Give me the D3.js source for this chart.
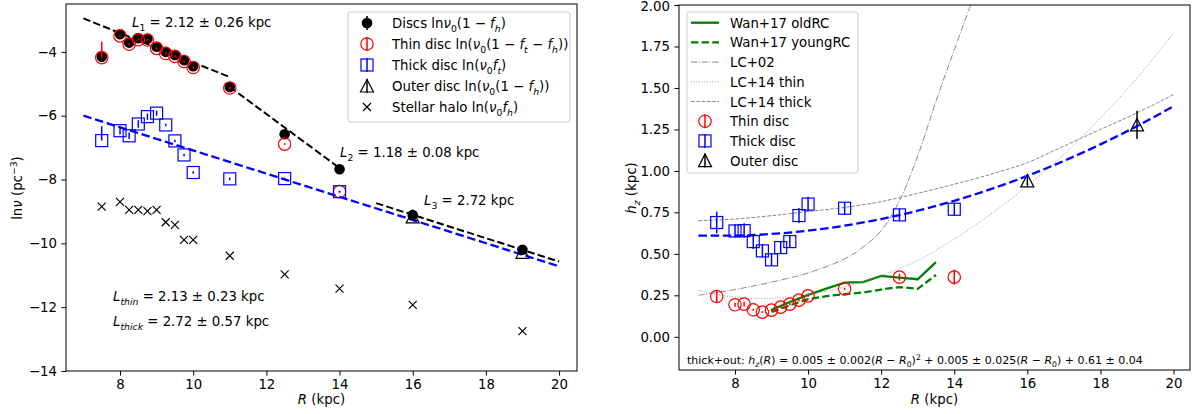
<!DOCTYPE html>
<html><head><meta charset="utf-8">
<script src="https://cdn.jsdelivr.net/npm/d3@7"></script>
<style>
body{margin:0;background:#fff}
svg{font-family:"DejaVu Sans",sans-serif}
</style>
</head><body>
<svg id="fig" width="1193" height="414"></svg>
<script>
// ---------- number density panel ----------
const radii = [7.5, 8.0, 8.25, 8.5, 8.75, 9.0, 9.25, 9.5, 9.75, 10.0, 11.0, 12.5, 14.0, 16.0, 19.0];
const discLnNu = [-4.15, -3.45, -3.71, -3.57, -3.59, -3.84, -4.0, -4.1, -4.26, -4.45, -5.1, -6.58, -7.68, -9.11, -10.2];
const haloLnNu = [-8.85, -8.7, -8.95, -8.95, -8.99, -8.95, -9.34, -9.42, -9.89, -9.89, -10.39, -10.97, -11.42, -11.93, -12.75];
const innerRadii = [7.5, 8.0, 8.25, 8.5, 8.75, 9.0, 9.25, 9.5, 9.75, 10.0, 11.0, 12.5, 14.0];
const thinLnNu = [-4.18, -3.5, -3.76, -3.62, -3.63, -3.89, -4.05, -4.14, -4.3, -4.49, -5.13, -6.89, -8.38];
const thinErrUp = [0.5, 0.03, 0.03, 0.03, 0.03, 0.03, 0.03, 0.03, 0.03, 0.03, 0.03, 0.03, 0.03];
const thinErrDn = [0.0, 0.03, 0.03, 0.03, 0.03, 0.03, 0.03, 0.03, 0.03, 0.03, 0.03, 0.03, 0.03];
const thickLnNu = [-6.78, -6.47, -6.63, -6.26, -6.03, -5.92, -6.29, -6.79, -7.23, -7.78, -7.98, -7.97, -8.38];
const thickErrUp = [0.45, 0.12, 0.1, 0.12, 0.1, 0.08, 0.04, 0.04, 0.04, 0.04, 0.04, 0.03, 0.03];
const thickErrDn = [0.0, 0.12, 0.1, 0.12, 0.1, 0.08, 0.04, 0.04, 0.04, 0.04, 0.04, 0.03, 0.03];
const outerRadii = [16.0, 19.0];
const outerLnNu = [-9.17, -10.28];
// fitted exponential profiles (end points of each straight segment in ln space)
const fitBreakR = [[7.0, 11.0], [11.0, 14.0], [15.0, 20.0]];
const fitBreakLn = [[-2.95, -4.79], [-5.1, -7.64], [-8.74, -10.57]];
const fitThickR = [7.0, 20.0];
const fitThickLn = [-6.0, -10.72];

// ---------- scale height panel ----------
const hzRadii = [7.5, 8.0, 8.25, 8.5, 8.75, 9.0, 9.25, 9.5, 9.75, 10.0, 11.0, 12.5, 14.0];
const thinHz = [0.243, 0.193, 0.197, 0.163, 0.149, 0.161, 0.179, 0.197, 0.221, 0.247, 0.289, 0.36, 0.36];
const thinHzErr = [0.035, 0.012, 0.015, 0.006, 0.006, 0.006, 0.006, 0.006, 0.006, 0.006, 0.006, 0.02, 0.045];
const thickHz = [0.689, 0.638, 0.64, 0.574, 0.518, 0.464, 0.538, 0.574, 0.731, 0.80, 0.775, 0.735, 0.769];
const thickHzErr = [0.065, 0.04, 0.045, 0.045, 0.04, 0.036, 0.036, 0.036, 0.045, 0.045, 0.036, 0.036, 0.036];
const outerHzR = [16.0, 19.0];
const outerHz = [0.94, 1.277];
const outerHzErr = [0.03, 0.085];
const wanR = [9.0, 9.5, 10.0, 10.5, 11.0, 11.5, 12.0, 12.5, 13.0, 13.5];
const wanOld = [0.163, 0.21, 0.253, 0.29, 0.327, 0.33, 0.367, 0.357, 0.347, 0.45];
const wanYoung = [0.15, 0.19, 0.227, 0.245, 0.257, 0.267, 0.285, 0.30, 0.289, 0.373];
const lc02R = [7.0, 8.0, 9.0, 10.0, 11.0, 11.5, 12.0, 12.5, 13.0, 13.5, 14.0, 14.45];
const lc02Hz = [0.25, 0.285, 0.33, 0.385, 0.47, 0.54, 0.64, 0.82, 1.09, 1.42, 1.73, 2.0];
const lc14R = [7.0, 7.5, 8.0, 8.5, 9.0, 9.5, 10.0, 11.0, 12.0, 13.0, 14.0, 15.0, 16.0, 17.0, 18.0, 19.0, 20.0];
const lc14Thin = [0.28, 0.255, 0.24, 0.232, 0.232, 0.24, 0.255, 0.3, 0.37, 0.46, 0.59, 0.74, 0.91, 1.1, 1.32, 1.56, 1.83];
const lc14ThickR = [7, 8, 9, 10, 11, 12, 13, 14, 15, 16, 17, 18, 19, 20];
const lc14Thick = [0.70, 0.71, 0.73, 0.755, 0.78, 0.815, 0.865, 0.92, 0.98, 1.05, 1.15, 1.25, 1.35, 1.46];
const fitHzR = [7, 8, 9, 10, 11, 12, 13, 14, 15, 16, 17, 18, 19, 20];
const fitHz = [0.61, 0.61, 0.62, 0.64, 0.67, 0.71, 0.76, 0.82, 0.89, 0.97, 1.06, 1.16, 1.27, 1.39];

const rTicks = [8, 10, 12, 14, 16, 18, 20];
const lnTicks = [-4, -6, -8, -10, -12, -14];
const hzTicks = [0.0, 0.25, 0.5, 0.75, 1.0, 1.25, 1.5, 1.75, 2.0];

const FS = 13.3;
const svg = d3.select("#fig");
const zip = (a, b) => a.map((v, i) => [v, b[i]]);

// mixed roman / italic / sub / superscript text
function rich(g, x, y, parts, size, opts = {}) {
  const t = g.append("text").attr("x", x).attr("y", y).attr("font-size", size)
    .attr("fill", "#000");
  if (opts.anchor) t.attr("text-anchor", opts.anchor);
  if (opts.transform) t.attr("transform", opts.transform);
  let shift = 0;
  parts.forEach(p => {
    const [txt, st = ""] = p;
    let target = 0, fsz = size;
    if (st.includes("sub")) { target = 0.28 * size; fsz = 0.7 * size; }
    if (st.includes("sup")) { target = -0.4 * size; fsz = 0.7 * size; }
    const ts = t.append("tspan").text(txt).attr("font-size", fsz)
      .attr("dy", target - shift);
    if (st.includes("i")) ts.attr("font-style", "italic");
    shift = target;
  });
  return t;
}

function frame(g, x0, y0, x1, y1) {
  g.append("rect").attr("x", x0).attr("y", y0).attr("width", x1 - x0).attr("height", y1 - y0)
    .attr("fill", "none").attr("stroke", "#000").attr("stroke-width", 1);
}

function styleAxis(a) {
  a.select(".domain").remove();
  a.selectAll("text").attr("font-size", FS).attr("fill", "#000")
    .attr("font-family", "DejaVu Sans");
  a.selectAll("line").attr("stroke", "#000").attr("stroke-width", 1);
}

// marker painters
function circleFilled(g, x, y) {
  g.append("circle").attr("cx", x).attr("cy", y).attr("r", 5.3).attr("fill", "#000");
}
function circleOpen(g, x, y, c) {
  g.append("circle").attr("cx", x).attr("cy", y).attr("r", 6.2).attr("fill", "none")
    .attr("stroke", c).attr("stroke-width", 1.2);
}
function squareOpen(g, x, y, c) {
  g.append("rect").attr("x", x - 6).attr("y", y - 6).attr("width", 12).attr("height", 12)
    .attr("fill", "none").attr("stroke", c).attr("stroke-width", 1.2);
}
function triOpen(g, x, y) {
  g.append("path").attr("d", `M${x},${y - 6.5}L${x + 6.5},${y + 6}L${x - 6.5},${y + 6}Z`)
    .attr("fill", "none").attr("stroke", "#000").attr("stroke-width", 1.2);
}
function cross(g, x, y) {
  const s = 4;
  g.append("path").attr("d", `M${x - s},${y - s}L${x + s},${y + s}M${x - s},${y + s}L${x + s},${y - s}`)
    .attr("stroke", "#000").attr("stroke-width", 1.2);
}
function vbar(g, x, y0, y1, c) {
  g.append("line").attr("x1", x).attr("x2", x).attr("y1", y0).attr("y2", y1)
    .attr("stroke", c).attr("stroke-width", 1.5);
}

// =============== left panel ===============
{
  const L = {x0: 66, x1: 577, y0: 4, y1: 371};
  const x = d3.scaleLinear().domain([6.524, 20.49]).range([L.x0, L.x1]);
  const y = d3.scaleLinear().domain([-14, -2.5]).range([L.y1, L.y0]);
  const g = svg.append("g");

  const ax = g.append("g").attr("transform", `translate(0,${L.y1})`)
    .call(d3.axisBottom(x).tickValues(rTicks).tickSize(4.6).tickPadding(4.4).tickFormat(d3.format("d")));
  styleAxis(ax);
  const ay = g.append("g").attr("transform", `translate(${L.x0},0)`)
    .call(d3.axisLeft(y).tickValues(lnTicks).tickSize(4.6).tickPadding(4.4).tickFormat(d3.format("d")));
  styleAxis(ay);

  const line = d3.line().x(d => x(d[0])).y(d => y(d[1]));
  fitBreakR.forEach((r, i) => {
    g.append("path").datum(zip(r, fitBreakLn[i])).attr("d", line).attr("fill", "none")
      .attr("stroke", "#000").attr("stroke-width", 2).attr("stroke-dasharray", "7.4,3.2");
  });
  g.append("path").datum(zip(fitThickR, fitThickLn)).attr("d", line).attr("fill", "none")
    .attr("stroke", "#0000ff").attr("stroke-width", 2.3).attr("stroke-dasharray", "8.5,3.7");

  // discs (1 - f_h)
  radii.forEach((r, i) => circleFilled(g, x(r), y(discLnNu[i])));
  // thin disc
  innerRadii.forEach((r, i) => {
    vbar(g, x(r), y(thinLnNu[i] + thinErrUp[i]), y(thinLnNu[i] - thinErrDn[i]), "#ff0000");
    circleOpen(g, x(r), y(thinLnNu[i]), "#ff0000");
  });
  // thick disc
  innerRadii.forEach((r, i) => {
    vbar(g, x(r), y(thickLnNu[i] + thickErrUp[i]), y(thickLnNu[i] - thickErrDn[i]), "#0000ff");
    squareOpen(g, x(r), y(thickLnNu[i]), "#0000ff");
  });
  // outer disc
  outerRadii.forEach((r, i) => triOpen(g, x(r), y(outerLnNu[i])));
  // stellar halo
  radii.forEach((r, i) => cross(g, x(r), y(haloLnNu[i])));

  frame(g, L.x0, L.y0, L.x1, L.y1);

  rich(g, 132, 27, [["L", "i"], ["1", "sub"], [" = 2.12 ± 0.26 kpc"]], FS);
  rich(g, 340, 157, [["L", "i"], ["2", "sub"], [" = 1.18 ± 0.08 kpc"]], FS);
  rich(g, 424, 205, [["L", "i"], ["3", "sub"], [" = 2.72 kpc"]], FS);
  rich(g, 113, 301, [["L", "i"], ["thin", "isub"], [" = 2.13 ± 0.23 kpc"]], FS);
  rich(g, 113, 326, [["L", "i"], ["thick", "isub"], [" = 2.72 ± 0.57 kpc"]], FS);

  rich(g, (L.x0 + L.x1) / 2, 404, [["R", "i"], [" (kpc)"]], FS, {anchor: "middle"});
  rich(g, 0, 0, [["ln"], ["ν", "i"], [" (pc"], ["−3", "sup"], [")"]], FS,
    {anchor: "middle", transform: "translate(22,188) rotate(-90)"});

  // legend
  const lg = g.append("g");
  lg.append("rect").attr("x", 348).attr("y", 12).attr("width", 222).attr("height", 110)
    .attr("rx", 3).attr("fill", "#fff").attr("fill-opacity", 0.8).attr("stroke", "#cccccc");
  const mx = 367, tx = 392;
  const rows = [23, 44, 65, 86, 107];
  vbar(lg, mx, rows[0] - 7, rows[0] + 7, "#000"); circleFilled(lg, mx, rows[0]);
  vbar(lg, mx, rows[1] - 7, rows[1] + 7, "#ff0000"); circleOpen(lg, mx, rows[1], "#ff0000");
  vbar(lg, mx, rows[2] - 7, rows[2] + 7, "#0000ff"); squareOpen(lg, mx, rows[2], "#0000ff");
  vbar(lg, mx, rows[3] - 7, rows[3] + 7, "#000"); triOpen(lg, mx, rows[3]);
  cross(lg, mx, rows[4]);
  const legTexts = [
    [["Discs ln"], ["ν", "i"], ["0", "sub"], ["(1 − "], ["f", "i"], ["h", "isub"], [")"]],
    [["Thin disc ln("], ["ν", "i"], ["0", "sub"], ["(1 − "], ["f", "i"], ["t", "isub"], [" − "], ["f", "i"], ["h", "isub"], ["))"]],
    [["Thick disc ln("], ["ν", "i"], ["0", "sub"], ["f", "i"], ["t", "isub"], [")"]],
    [["Outer disc ln("], ["ν", "i"], ["0", "sub"], ["(1 − "], ["f", "i"], ["h", "isub"], ["))"]],
    [["Stellar halo ln("], ["ν", "i"], ["0", "sub"], ["f", "i"], ["h", "isub"], [")"]]
  ];
  legTexts.forEach((p, i) => rich(lg, tx, rows[i] + 5, p, FS));
}

// =============== right panel ===============
{
  const P = {x0: 679, x1: 1190, y0: 5, y1: 370};
  const x = d3.scaleLinear().domain([6.468, 20.45]).range([P.x0, P.x1]);
  const y = d3.scaleLinear().domain([-0.2, 2.0]).range([P.y1, P.y0]);
  const g = svg.append("g");
  const clipId = "clipR";
  svg.append("defs").append("clipPath").attr("id", clipId).append("rect")
    .attr("x", P.x0).attr("y", P.y0).attr("width", P.x1 - P.x0).attr("height", P.y1 - P.y0);

  const ax = g.append("g").attr("transform", `translate(0,${P.y1})`)
    .call(d3.axisBottom(x).tickValues(rTicks).tickSize(4.6).tickPadding(4.4).tickFormat(d3.format("d")));
  styleAxis(ax);
  const ay = g.append("g").attr("transform", `translate(${P.x0},0)`)
    .call(d3.axisLeft(y).tickValues(hzTicks).tickSize(4.6).tickPadding(4.4).tickFormat(d3.format(".2f")));
  styleAxis(ay);
  // keep the topmost tick label inside the canvas
  ay.selectAll(".tick").filter(d => d === 2.0).select("text").attr("dy", "0.42em");

  const plot = g.append("g").attr("clip-path", `url(#${clipId})`);
  const line = d3.line().x(d => x(d[0])).y(d => y(d[1]));
  const smooth = d3.line().x(d => x(d[0])).y(d => y(d[1])).curve(d3.curveMonotoneX);
  const smoothCR = d3.line().x(d => x(d[0])).y(d => y(d[1])).curve(d3.curveCatmullRom);

  plot.append("path").datum(zip(wanR, wanOld)).attr("d", line).attr("fill", "none")
    .attr("stroke", "#008000").attr("stroke-width", 2.3);
  plot.append("path").datum(zip(wanR, wanYoung)).attr("d", line).attr("fill", "none")
    .attr("stroke", "#008000").attr("stroke-width", 2.3).attr("stroke-dasharray", "7.4,3.2");
  plot.append("path").datum(zip(lc02R, lc02Hz)).attr("d", smoothCR).attr("fill", "none")
    .attr("stroke", "#888").attr("stroke-width", 1).attr("stroke-dasharray", "6.4,1.6,1,1.6");
  plot.append("path").datum(zip(lc14R, lc14Thin)).attr("d", smooth).attr("fill", "none")
    .attr("stroke", "#999").attr("stroke-width", 1).attr("stroke-dasharray", "1,1.65");
  plot.append("path").datum(zip(lc14ThickR, lc14Thick)).attr("d", smooth).attr("fill", "none")
    .attr("stroke", "#888").attr("stroke-width", 1).attr("stroke-dasharray", "3.7,1.6");

  // thin disc
  hzRadii.forEach((r, i) => {
    vbar(plot, x(r), y(thinHz[i] + thinHzErr[i]), y(thinHz[i] - thinHzErr[i]), "#ff0000");
    circleOpen(plot, x(r), y(thinHz[i]), "#ff0000");
  });
  // thick disc
  hzRadii.forEach((r, i) => {
    vbar(plot, x(r), y(thickHz[i] + thickHzErr[i]), y(thickHz[i] - thickHzErr[i]), "#0000ff");
    squareOpen(plot, x(r), y(thickHz[i]), "#0000ff");
  });
  // outer disc
  outerHzR.forEach((r, i) => {
    vbar(plot, x(r), y(outerHz[i] + outerHzErr[i]), y(outerHz[i] - outerHzErr[i]), "#000");
    triOpen(plot, x(r), y(outerHz[i]));
  });
  // thick+outer fit
  plot.append("path").datum(zip(fitHzR, fitHz)).attr("d", smooth).attr("fill", "none")
    .attr("stroke", "#0000ff").attr("stroke-width", 2.3).attr("stroke-dasharray", "8.5,3.7");

  frame(g, P.x0, P.y0, P.x1, P.y1);

  rich(g, 687, 364, [["thick+out: "], ["h", "i"], ["z", "isub"], ["("], ["R", "i"], [") = 0.005 ± 0.002("],
    ["R", "i"], [" − "], ["R", "i"], ["0", "sub"], [")"], ["2", "sup"], [" + 0.005 ± 0.025("],
    ["R", "i"], [" − "], ["R", "i"], ["0", "sub"], [") + 0.61 ± 0.04"]], 11);

  rich(g, (P.x0 + P.x1) / 2, 404, [["R", "i"], [" (kpc)"]], FS, {anchor: "middle"});
  rich(g, 0, 0, [["h", "i"], ["z", "isub"], [" (kpc)"]], FS,
    {anchor: "middle", transform: "translate(636,188) rotate(-90)"});

  // legend
  const lg = g.append("g");
  lg.append("rect").attr("x", 687).attr("y", 12).attr("width", 171).attr("height", 161)
    .attr("rx", 3).attr("fill", "#fff").attr("fill-opacity", 0.8).attr("stroke", "#cccccc");
  const rows = [22.7, 42.4, 62.1, 81.8, 101.5, 121.2, 140.9, 160.6];
  const hx0 = 691, hx1 = 719, mx = 705, tx = 730;
  const hl = (yy, stroke, w, dash) => {
    const l = lg.append("line").attr("x1", hx0).attr("x2", hx1).attr("y1", yy).attr("y2", yy)
      .attr("stroke", stroke).attr("stroke-width", w);
    if (dash) l.attr("stroke-dasharray", dash);
  };
  hl(rows[0], "#008000", 2.3);
  hl(rows[1], "#008000", 2.3, "7.4,3.2");
  hl(rows[2], "#888", 1, "6.4,1.6,1,1.6");
  hl(rows[3], "#999", 1, "1,1.65");
  hl(rows[4], "#888", 1, "3.7,1.6");
  vbar(lg, mx, rows[5] - 7, rows[5] + 7, "#ff0000"); circleOpen(lg, mx, rows[5], "#ff0000");
  vbar(lg, mx, rows[6] - 7, rows[6] + 7, "#0000ff"); squareOpen(lg, mx, rows[6], "#0000ff");
  vbar(lg, mx, rows[7] - 7, rows[7] + 7, "#000"); triOpen(lg, mx, rows[7]);
  const names = ["Wan+17 oldRC", "Wan+17 youngRC", "LC+02", "LC+14 thin", "LC+14 thick",
    "Thin disc", "Thick disc", "Outer disc"];
  names.forEach((n, i) => rich(lg, tx, rows[i] + 5, [[n]], FS));
}
</script>
</body></html>
